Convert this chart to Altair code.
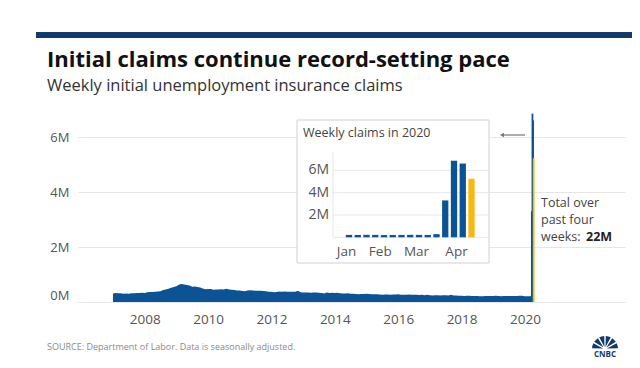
import altair as alt
import pandas as pd

# ---------------- data (thousands of claims) ----------------
claims_2007 = [310, 325, 315, 320, 305, 310, 305, 315, 315, 325, 330, 340]
claims_2008 = [330, 355, 365, 365, 370, 385, 390, 440, 460, 480, 520, 545]
claims_2009 = [575, 640, 655, 640, 620, 600, 560, 565, 545, 530, 490, 465]
claims_2010 = [470, 470, 450, 460, 460, 465, 460, 480, 455, 450, 440, 420]
claims_2011 = [420, 400, 395, 420, 425, 420, 410, 410, 410, 400, 395, 375]
claims_2012 = [370, 360, 365, 380, 375, 380, 370, 370, 370, 370, 410, 360]
claims_2013 = [350, 345, 345, 340, 350, 345, 340, 330, 310, 350, 330, 340]
claims_2014 = [330, 335, 320, 310, 310, 315, 300, 300, 295, 285, 295, 295]
claims_2015 = [300, 295, 285, 280, 280, 275, 265, 275, 270, 265, 270, 275]
claims_2016 = [280, 265, 265, 260, 270, 265, 265, 265, 255, 260, 250, 260]
claims_2017 = [250, 240, 250, 245, 240, 245, 245, 240, 260, 235, 240, 230]
claims_2018 = [225, 220, 225, 225, 220, 220, 215, 210, 210, 215, 220, 220]
claims_2019 = [220, 225, 215, 210, 215, 220, 215, 215, 215, 215, 225, 225]
claims_2020 = [210, 210]

march_weeks = ["2020-03-07", "2020-03-14"]
march_values = [211, 282]

spike_weeks = ["2020-03-21", "2020-03-28", "2020-04-04", "2020-04-11"]
spike_values = [3307, 6867, 6615, 5245]
spike_status = ["prior", "prior", "prior", "latest"]

inset_weeks = ["2020-01-04", "2020-01-11", "2020-01-18", "2020-01-25", "2020-02-01",
               "2020-02-08", "2020-02-15", "2020-02-22", "2020-02-29", "2020-03-07",
               "2020-03-14", "2020-03-21", "2020-03-28", "2020-04-04", "2020-04-11"]
inset_values = [214, 207, 223, 217, 201, 205, 211, 219, 217, 211, 282, 3307, 6867, 6615, 5245]
inset_status = ["prior"] * 14 + ["latest"]

year_ticks = [2008, 2010, 2012, 2014, 2016, 2018, 2020]
y_ticks = [0, 2_000_000, 4_000_000, 6_000_000]
inset_y_ticks = [2_000_000, 4_000_000, 6_000_000]
inset_y_labels = ["2M", "4M", "6M"]
month_labels = ["Jan", "Feb", "Mar", "Apr"]
month_label_dates = ["2020-01-02", "2020-01-29", "2020-02-27", "2020-03-30"]

# ---------------- styles ----------------
BLUE = "#0b5394"
GOLD = "#f6b912"
NAVY = "#123b6d"
FONT = "Open Sans"
GREY_TXT = "#555555"
W, H = 547, 192

monthly_values = (claims_2007 + claims_2008 + claims_2009 + claims_2010 + claims_2011 +
                  claims_2012 + claims_2013 + claims_2014 + claims_2015 + claims_2016 +
                  claims_2017 + claims_2018 + claims_2019 + claims_2020)
monthly_dates = list(pd.date_range("2007-01-01", periods=len(monthly_values), freq="MS").strftime("%Y-%m-%d"))

main_df = pd.DataFrame({
    "date": monthly_dates + march_weeks,
    "claims": [v * 1000 for v in monthly_values + march_values],
})
spike_df = pd.DataFrame({"date": spike_weeks, "claims": [v * 1000 for v in spike_values], "status": spike_status})
inset_df = pd.DataFrame({"date": inset_weeks, "claims": [v * 1000 for v in inset_values], "status": inset_status})
inset_grid_df = pd.DataFrame({"claims": inset_y_ticks, "label": inset_y_labels})
month_df = pd.DataFrame({"date": month_label_dates, "label": month_labels})

def dt(s):
    y, m, d = (int(p) for p in s.split("-"))
    return alt.DateTime(year=y, month=m, date=d, utc=True)

status_scale = alt.Scale(domain=["prior", "latest"], range=[BLUE, GOLD])

# ---------------- main chart ----------------
x_main = alt.X(
    "date:T", title=None,
    scale=alt.Scale(type="utc", domain=[dt("2006-01-20"), dt("2023-01-01")]),
    axis=alt.Axis(values=[dt(f"{y}-01-01") for y in year_ticks], format="%Y", grid=False,
                  domain=False, ticks=False, labelPadding=10, labelFontSize=13.5,
                  labelColor=GREY_TXT, labelFont=FONT),
)
y_main = alt.Y(
    "claims:Q", title=None,
    scale=alt.Scale(domain=[0, 7_000_000], nice=False),
    axis=alt.Axis(values=y_ticks, labelExpr="datum.value / 1000000 + 'M'", labelFlush=True,
                  grid=True, gridColor="#e6e6e6", domain=False, ticks=False, labelPadding=9,
                  labelFontSize=13, labelColor=GREY_TXT, labelFont=FONT),
)

area = alt.Chart(main_df).mark_area(color=BLUE, interpolate="linear").encode(x=x_main, y=y_main)
spike = alt.Chart(spike_df).mark_bar(width=1.8).encode(
    x="date:T", y="claims:Q",
    color=alt.Color("status:N", scale=status_scale, legend=None),
)
main_layer = alt.layer(area, spike)

# ---------------- inset ----------------
x_in = alt.X("date:T", axis=None,
             scale=alt.Scale(type="utc", domain=[dt("2020-01-04"), dt("2020-04-11")], range=[266, 398.5]))
y_in = alt.Y("claims:Q", axis=None, scale=alt.Scale(domain=[0, 6_000_000], range=[127.3, 60.4], nice=False))

one = pd.DataFrame({"a": [0]})
box = alt.Chart(one).mark_rect(fill="white", stroke="#d0d0d0", strokeWidth=1).encode(
    x=alt.value(219), x2=alt.value(411), y=alt.value(10), y2=alt.value(153))
inset_title = alt.Chart(one).mark_text(align="left", baseline="middle", font=FONT, fontSize=12.5,
                                       color="#444444", text="Weekly claims in 2020").encode(
    x=alt.value(225), y=alt.value(23))
inset_grid = alt.Chart(inset_grid_df).mark_rule(color="#e6e6e6").encode(
    y=y_in, x=alt.value(255), x2=alt.value(410))
inset_base = alt.Chart(one).mark_rule(color="#e6e6e6").encode(
    y=alt.value(127.3), x=alt.value(255), x2=alt.value(410))
inset_vline = alt.Chart(one).mark_rule(color="#e6e6e6").encode(
    x=alt.value(255), y=alt.value(42), y2=alt.value(127.3))
inset_ylab = alt.Chart(inset_grid_df).mark_text(align="right", baseline="middle", font=FONT,
                                                fontSize=14, color=GREY_TXT).encode(
    y=y_in, x=alt.value(251), text="label:N")
inset_xlab = alt.Chart(month_df).mark_text(align="center", baseline="middle", font=FONT,
                                           fontSize=13.5, color=GREY_TXT).encode(
    x=x_in, y=alt.value(142), text="label:N")
inset_bars = alt.Chart(inset_df).mark_bar(width=6.3).encode(
    x=x_in, y=y_in, color=alt.Color("status:N", scale=status_scale, legend=None))
inset_layer = alt.layer(box, inset_title, inset_grid, inset_base, inset_vline, inset_ylab,
                        inset_xlab, inset_bars)

# ---------------- decorations and text ----------------
top_bar = alt.Chart(one).mark_rect(color=NAVY).encode(
    x=alt.value(-42), x2=alt.value(570), y=alt.value(-78), y2=alt.value(-72))
title = alt.Chart(one).mark_text(align="left", baseline="alphabetic", font=FONT, fontSize=22,
                                 fontWeight="bold", color="#111111",
                                 text="Initial claims continue record-setting pace").encode(
    x=alt.value(-31), y=alt.value(-43))
subtitle = alt.Chart(one).mark_text(align="left", baseline="alphabetic", font=FONT, fontSize=16.5,
                                    color="#333333",
                                    text="Weekly initial unemployment insurance claims").encode(
    x=alt.value(-31), y=alt.value(-19))
arrow_line = alt.Chart(one).mark_rule(color="#777777", strokeWidth=1.2).encode(
    x=alt.value(424), x2=alt.value(447), y=alt.value(25))
arrow_head = alt.Chart(one).mark_point(shape="triangle-left", filled=True, color="#777777",
                                       size=22, opacity=1).encode(x=alt.value(424), y=alt.value(25))
note1 = alt.Chart(one).mark_text(align="left", baseline="middle", font=FONT, fontSize=12.5,
                                 color="#444444", text="Total over").encode(x=alt.value(463), y=alt.value(93))
note2 = alt.Chart(one).mark_text(align="left", baseline="middle", font=FONT, fontSize=12.5,
                                 color="#444444", text="past four").encode(x=alt.value(463), y=alt.value(110))
note3 = alt.Chart(one).mark_text(align="left", baseline="middle", font=FONT, fontSize=12.5,
                                 color="#444444", text="weeks:").encode(x=alt.value(463), y=alt.value(127))
note4 = alt.Chart(one).mark_text(align="left", baseline="middle", font=FONT, fontSize=12.5,
                                 fontWeight="bold", color="#222222", text="22M").encode(
    x=alt.value(508), y=alt.value(127))
source = alt.Chart(one).mark_text(align="left", baseline="middle", font=FONT, fontSize=9,
                                  color="#8a8a8a",
                                  text="SOURCE: Department of Labor. Data is seasonally adjusted.").encode(
    x=alt.value(-31), y=alt.value(237))

feathers = pd.DataFrame({"feather": list("abcdef"), "share": [1, 1, 1, 1, 1, 1]})
logo = alt.Chart(feathers).mark_arc(innerRadius=2, outerRadius=13, padAngle=0.12, color=NAVY).encode(
    theta=alt.Theta("share:Q", stack=True, scale=alt.Scale(range=[-1.5708, 1.5708])),
    order=alt.Order("feather:N"),
    x=alt.value(527), y=alt.value(239))
logo_text = alt.Chart(one).mark_text(align="center", baseline="middle", font=FONT, fontSize=8,
                                     fontWeight="bold", color=NAVY, text="CNBC").encode(
    x=alt.value(527), y=alt.value(245))

chart = alt.layer(
    top_bar, title, subtitle, main_layer, inset_layer, arrow_line, arrow_head,
    note1, note2, note3, note4, source, logo, logo_text,
).resolve_scale(x="independent", y="independent", color="independent", theta="independent").properties(
    width=W, height=H,
    padding={"left": 70, "top": 102, "right": 7, "bottom": 58},
    autosize=alt.AutoSizeParams(type="none"),
).configure_view(stroke=None)

chart.save("out.html", embed_options={"renderer": "svg", "actions": False})
